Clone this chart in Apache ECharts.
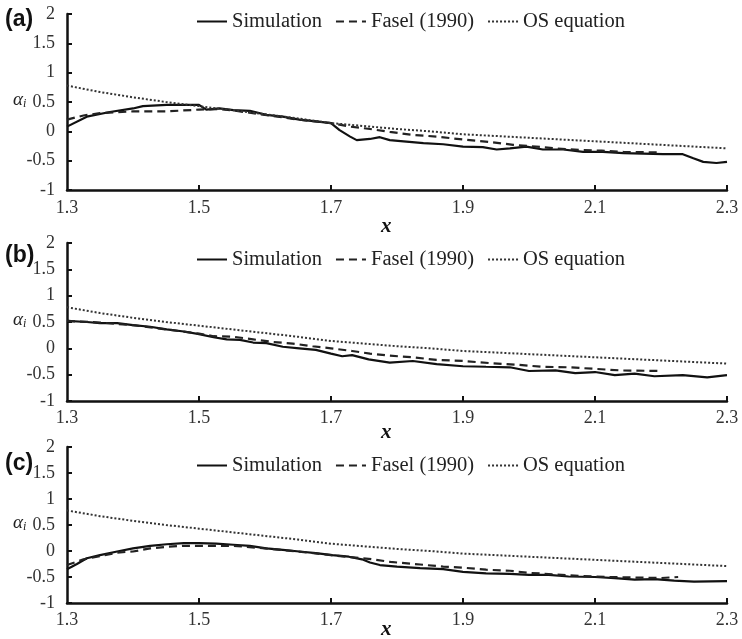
<!DOCTYPE html>
<html>
<head>
<meta charset="utf-8">
<script src="https://cdn.jsdelivr.net/npm/echarts@6/dist/echarts.min.js"></script>
<style>
  html, body { margin: 0; padding: 0; background: #fff; }
  #chart { width: 742px; height: 639px; }
</style>
</head>
<body>
<div id="chart"></div>
<script>
// tick values
var xTicks = [1.3, 1.5, 1.7, 1.9, 2.1, 2.3];
var seriesNames = ['Simulation', 'Fasel (1990)', 'OS equation'];

// OS equation, same in every panel
var osEq = [[1.3,0.78],[1.35,0.67],[1.4,0.58],[1.45,0.5],[1.5,0.43],[1.55,0.36],[1.6,0.29],[1.65,0.22],
  [1.7,0.14],[1.75,0.09],[1.8,0.04],[1.85,0.0],[1.9,-0.05],[1.95,-0.08],[2.0,-0.11],[2.05,-0.14],
  [2.1,-0.17],[2.15,-0.2],[2.2,-0.23],[2.25,-0.26],[2.3,-0.29]];

// panel (a)
var simA = [[1.3,0.08],[1.33,0.25],[1.365,0.33],[1.4,0.39],[1.415,0.43],[1.451,0.45],[1.5,0.45],[1.511,0.37],
  [1.531,0.39],[1.552,0.36],[1.577,0.35],[1.602,0.28],[1.627,0.25],[1.652,0.2],[1.677,0.17],[1.7,0.14],
  [1.713,0.02],[1.729,-0.09],[1.739,-0.15],[1.759,-0.13],[1.774,-0.1],[1.789,-0.15],[1.81,-0.17],
  [1.84,-0.2],[1.87,-0.22],[1.9,-0.26],[1.93,-0.27],[1.951,-0.31],[1.971,-0.29],[1.996,-0.26],
  [2.021,-0.31],[2.052,-0.31],[2.082,-0.35],[2.112,-0.35],[2.143,-0.37],[2.173,-0.38],[2.203,-0.39],
  [2.233,-0.39],[2.249,-0.46],[2.264,-0.52],[2.284,-0.54],[2.3,-0.52]];
var faselA = [[1.3,0.2],[1.325,0.27],[1.35,0.31],[1.4,0.34],[1.45,0.34],[1.5,0.37],[1.53,0.38],[1.55,0.36],
  [1.6,0.28],[1.65,0.2],[1.7,0.14],[1.729,0.08],[1.759,0.04],[1.789,-0.01],[1.824,-0.06],[1.86,-0.09],
  [1.9,-0.14],[1.94,-0.18],[1.976,-0.23],[2.0,-0.25],[2.04,-0.29],[2.08,-0.32],[2.11,-0.33],
  [2.143,-0.35],[2.2,-0.36]];

// panel (b)
var simB = [[1.3,0.52],[1.33,0.5],[1.35,0.48],[1.376,0.48],[1.4,0.44],[1.426,0.41],[1.451,0.36],[1.477,0.32],
  [1.5,0.27],[1.522,0.21],[1.542,0.17],[1.562,0.16],[1.582,0.11],[1.602,0.1],[1.627,0.03],[1.652,0.0],
  [1.677,-0.03],[1.7,-0.1],[1.717,-0.15],[1.732,-0.13],[1.757,-0.21],[1.789,-0.27],[1.824,-0.24],
  [1.86,-0.3],[1.9,-0.34],[1.935,-0.35],[1.971,-0.36],[2.0,-0.43],[2.04,-0.42],[2.07,-0.47],[2.1,-0.45],
  [2.13,-0.51],[2.16,-0.48],[2.19,-0.53],[2.233,-0.51],[2.27,-0.55],[2.3,-0.51]];
var faselB = [[1.3,0.52],[1.35,0.49],[1.4,0.44],[1.45,0.36],[1.5,0.28],[1.522,0.23],[1.552,0.22],
  [1.582,0.17],[1.612,0.12],[1.642,0.09],[1.672,0.04],[1.7,0.0],[1.732,-0.05],[1.759,-0.1],
  [1.789,-0.14],[1.824,-0.17],[1.86,-0.22],[1.9,-0.24],[1.94,-0.28],[1.98,-0.31],[2.02,-0.35],
  [2.06,-0.36],[2.1,-0.39],[2.14,-0.42],[2.2,-0.43]];

// panel (c)
var simC = [[1.3,-0.35],[1.315,-0.25],[1.33,-0.14],[1.35,-0.08],[1.376,-0.01],[1.4,0.05],[1.426,0.1],
  [1.451,0.13],[1.477,0.15],[1.5,0.15],[1.526,0.14],[1.552,0.12],[1.577,0.1],[1.602,0.05],[1.627,0.02],
  [1.652,-0.01],[1.677,-0.04],[1.702,-0.08],[1.727,-0.11],[1.747,-0.16],[1.759,-0.22],[1.774,-0.27],
  [1.8,-0.3],[1.835,-0.33],[1.87,-0.35],[1.9,-0.4],[1.935,-0.43],[1.971,-0.44],[2.0,-0.46],[2.03,-0.46],
  [2.06,-0.49],[2.1,-0.5],[2.13,-0.52],[2.16,-0.55],[2.19,-0.54],[2.22,-0.57],[2.25,-0.59],[2.3,-0.58]];
var faselC = [[1.3,-0.27],[1.325,-0.16],[1.35,-0.1],[1.376,-0.03],[1.4,-0.01],[1.426,0.05],[1.451,0.08],
  [1.477,0.1],[1.5,0.1],[1.526,0.1],[1.552,0.1],[1.6,0.05],[1.65,-0.01],[1.7,-0.08],[1.757,-0.15],
  [1.79,-0.21],[1.835,-0.26],[1.87,-0.3],[1.9,-0.32],[1.935,-0.36],[1.971,-0.38],[2.0,-0.42],
  [2.04,-0.45],[2.08,-0.48],[2.12,-0.5],[2.16,-0.51],[2.2,-0.52],[2.226,-0.5]];

var panels = [
  { tag: '(a)', sim: simA, fasel: faselA, top: 14, height: 176, labelMargin: 9, legendTop: 6, tagY: 18, xNameY: 226 },
  { tag: '(b)', sim: simB, fasel: faselB, top: 243, height: 158, labelMargin: 8, legendTop: 244, tagY: 254, xNameY: 432 },
  { tag: '(c)', sim: simC, fasel: faselC, top: 447, height: 156, labelMargin: 8, legendTop: 450, tagY: 462, xNameY: 629 }
];

var serif = '"Liberation Serif", "Times New Roman", serif';
var chart = echarts.init(document.getElementById('chart'));

var grids = [], xAxes = [], yAxes = [], series = [], legends = [], graphics = [];

panels.forEach(function (p, i) {
  grids.push({ left: 67, right: 15, top: p.top, height: p.height });

  xAxes.push({
    type: 'value', gridIndex: i, min: 1.3, max: 2.3,
    axisLine: { onZero: false, lineStyle: { color: '#111', width: 2.5 } },
    axisTick: { show: true, inside: true, length: 5, customValues: xTicks.slice(1), lineStyle: { color: '#111', width: 2 } },
    axisLabel: { customValues: xTicks, margin: p.labelMargin, color: '#333', fontFamily: serif, fontSize: 18,
      formatter: function (v) { return v.toFixed(1); } },
    splitLine: { show: false }
  });

  yAxes.push({
    type: 'value', gridIndex: i, min: -1, max: 2, interval: 0.5,
    axisLine: { show: true, onZero: false, lineStyle: { color: '#111', width: 2.5 } },
    axisTick: { show: true, inside: true, length: 5, lineStyle: { color: '#111', width: 2 } },
    axisLabel: { margin: 12, color: '#333', fontFamily: serif, fontSize: 18 },
    splitLine: { show: false }
  });

  series.push(
    { name: seriesNames[0], type: 'line', xAxisIndex: i, yAxisIndex: i, data: p.sim, symbol: 'none',
      lineStyle: { color: '#111', width: 2.2, type: 'solid' }, itemStyle: { color: '#111' } },
    { name: seriesNames[1], type: 'line', xAxisIndex: i, yAxisIndex: i, data: p.fasel, symbol: 'none',
      lineStyle: { color: '#222', width: 2.2, type: [8, 5] }, itemStyle: { color: '#222' } },
    { name: seriesNames[2], type: 'line', xAxisIndex: i, yAxisIndex: i, data: osEq, symbol: 'none',
      lineStyle: { color: '#333', width: 2, type: [2, 2] }, itemStyle: { color: '#333' } }
  );

  legends.push({
    data: seriesNames, top: p.legendTop, left: 191, itemWidth: 30, itemHeight: 14, itemGap: 13,
    itemStyle: { opacity: 0 },
    textStyle: { fontFamily: serif, fontSize: 20.5, color: '#222' }
  });

  graphics.push(
    { type: 'text', left: 5, top: p.tagY - 10,
      style: { text: p.tag, font: 'bold 23px "Liberation Sans"', fill: '#111' } },
    { type: 'text', left: 13, top: p.top + p.height / 2 - 12,
      style: { text: '{a|α}{s|i}', rich: {
        a: { fontFamily: serif, fontStyle: 'italic', fontSize: 19, fill: '#222' },
        s: { fontFamily: serif, fontStyle: 'italic', fontSize: 12, fill: '#222', padding: [8, 0, 0, 0] }
      } } },
    { type: 'text', left: 381, top: p.xNameY - 10,
      style: { text: 'x', font: 'italic bold 21px "Liberation Serif"', fill: '#111' } }
  );
});

chart.setOption({
  backgroundColor: '#fff',
  animation: false,
  grid: grids,
  xAxis: xAxes,
  yAxis: yAxes,
  legend: legends,
  series: series,
  graphic: graphics
});
</script>
</body>
</html>
